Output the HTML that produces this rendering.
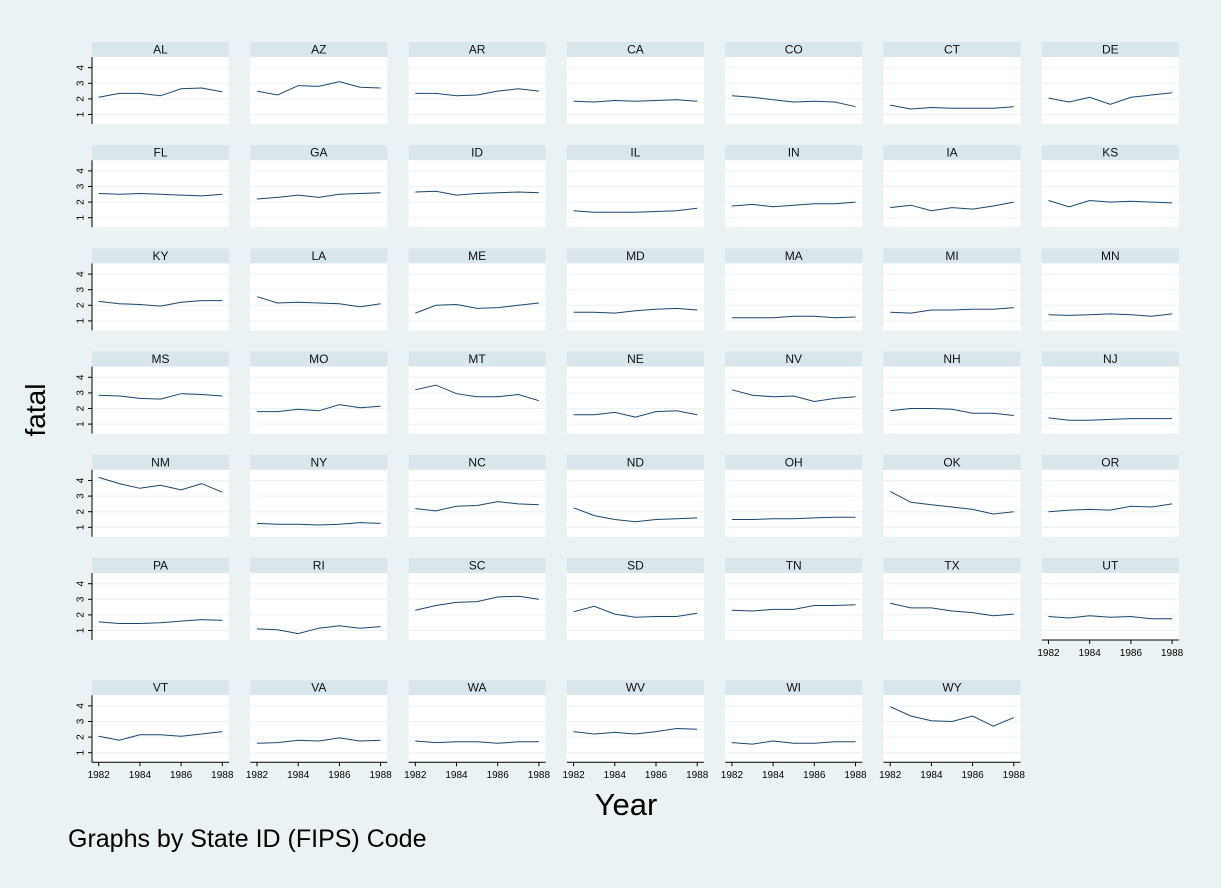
<!DOCTYPE html>
<html><head><meta charset="utf-8"><style>
body{margin:0;background:#eaf2f3;}
svg{display:block;font-family:"Liberation Sans",Arial,sans-serif;}
</style></head><body>
<svg id="chart" width="1221" height="888" viewBox="0 0 1221 888" xmlns="http://www.w3.org/2000/svg">
<rect width="1221" height="888" fill="#eaf2f3"/>
<text x="45" y="410" font-size="28" text-anchor="middle" transform="rotate(-90 45 410)">fatal</text>
<text x="626" y="815" font-size="31" text-anchor="middle">Year</text>
<text x="68" y="847" font-size="25">Graphs by State ID (FIPS) Code</text>
<g id="panels"></g>
</svg>
<script>
const years=[1982,1983,1984,1985,1986,1987,1988];
const xTicks=[1982,1984,1986,1988];
const yTicks=[1,2,3,4];
const states=["AL","AZ","AR","CA","CO","CT","DE","FL","GA","ID","IL","IN","IA","KS","KY","LA","ME","MD","MA","MI","MN","MS","MO","MT","NE","NV","NH","NJ","NM","NY","NC","ND","OH","OK","OR","PA","RI","SC","SD","TN","TX","UT","VT","VA","WA","WV","WI","WY"];
const AL=[2.1,2.35,2.35,2.2,2.65,2.7,2.45];
const AZ=[2.5,2.25,2.85,2.8,3.1,2.75,2.7];
const AR=[2.35,2.35,2.2,2.25,2.5,2.65,2.5];
const CA=[1.85,1.8,1.9,1.85,1.9,1.95,1.85];
const CO=[2.2,2.1,1.95,1.8,1.85,1.8,1.5];
const CT=[1.6,1.35,1.45,1.4,1.4,1.4,1.5];
const DE=[2.05,1.8,2.1,1.65,2.1,2.25,2.4];
const FL=[2.55,2.5,2.55,2.5,2.45,2.4,2.5];
const GA=[2.2,2.3,2.45,2.3,2.5,2.55,2.6];
const ID=[2.65,2.7,2.45,2.55,2.6,2.65,2.6];
const IL=[1.45,1.35,1.35,1.35,1.4,1.45,1.6];
const IN=[1.75,1.85,1.7,1.8,1.9,1.9,2.0];
const IA=[1.65,1.8,1.45,1.65,1.55,1.75,2.0];
const KS=[2.1,1.7,2.1,2.0,2.05,2.0,1.95];
const KY=[2.25,2.1,2.05,1.95,2.2,2.3,2.3];
const LA=[2.55,2.15,2.2,2.15,2.1,1.9,2.1];
const ME=[1.5,2.0,2.05,1.8,1.85,2.0,2.15];
const MD=[1.55,1.55,1.5,1.65,1.75,1.8,1.7];
const MA=[1.2,1.2,1.2,1.3,1.3,1.2,1.25];
const MI=[1.55,1.5,1.7,1.7,1.75,1.75,1.85];
const MN=[1.4,1.35,1.4,1.45,1.4,1.3,1.45];
const MS=[2.85,2.8,2.65,2.6,2.95,2.9,2.8];
const MO=[1.8,1.8,1.95,1.85,2.25,2.05,2.15];
const MT=[3.2,3.5,2.95,2.75,2.75,2.9,2.5];
const NE=[1.6,1.6,1.75,1.45,1.8,1.85,1.6];
const NV=[3.2,2.85,2.75,2.8,2.45,2.65,2.75];
const NH=[1.85,2.0,2.0,1.95,1.7,1.7,1.55];
const NJ=[1.4,1.25,1.25,1.3,1.35,1.35,1.35];
const NM=[4.2,3.8,3.5,3.7,3.4,3.8,3.25];
const NY=[1.25,1.2,1.2,1.15,1.2,1.3,1.25];
const NC=[2.2,2.05,2.35,2.4,2.65,2.5,2.45];
const ND=[2.25,1.75,1.5,1.35,1.5,1.55,1.6];
const OH=[1.5,1.5,1.55,1.55,1.6,1.65,1.65];
const OK=[3.3,2.6,2.45,2.3,2.15,1.85,2.0];
const OR=[2.0,2.1,2.15,2.1,2.35,2.3,2.5];
const PA=[1.55,1.45,1.45,1.5,1.6,1.7,1.65];
const RI=[1.1,1.05,0.8,1.15,1.3,1.15,1.25];
const SC=[2.3,2.6,2.8,2.85,3.15,3.2,3.0];
const SD=[2.2,2.55,2.05,1.85,1.9,1.9,2.1];
const TN=[2.3,2.25,2.35,2.35,2.6,2.6,2.65];
const TX=[2.75,2.45,2.45,2.25,2.15,1.95,2.05];
const UT=[1.9,1.8,1.95,1.85,1.9,1.75,1.75];
const VT=[2.05,1.8,2.15,2.15,2.05,2.2,2.35];
const VA=[1.6,1.65,1.8,1.75,1.95,1.75,1.8];
const WA=[1.75,1.65,1.7,1.7,1.6,1.7,1.7];
const WV=[2.35,2.2,2.3,2.2,2.35,2.55,2.5];
const WI=[1.65,1.55,1.75,1.6,1.6,1.7,1.7];
const WY=[3.95,3.35,3.05,3.0,3.35,2.7,3.25];
const values=[AL,AZ,AR,CA,CO,CT,DE,FL,GA,ID,IL,IN,IA,KS,KY,LA,ME,MD,MA,MI,MN,MS,MO,MT,NE,NV,NH,NJ,NM,NY,NC,ND,OH,OK,OR,PA,RI,SC,SD,TN,TX,UT,VT,VA,WA,WV,WI,WY];

const NS="http://www.w3.org/2000/svg";
const g=document.getElementById('panels');
function mk(tag,attrs,parent){const e=document.createElementNS(NS,tag);for(const k in attrs)e.setAttribute(k,attrs[k]);parent.appendChild(e);return e;}
const PW=137, HH=15, PH=67;
function panelPos(i){const r=Math.floor(i/7),c=i%7;const x=92+c*158.3;const y=42+r*103.2+(r===6?19:0);return [x,y,r,c];}
states.forEach((st,i)=>{
  const [px,py,r,c]=panelPos(i);
  const top=py+HH, bot=top+PH;
  const xs=v=>px+6.7+(v-1982)/6*123.6;
  const ys=v=>top+10.7+(4-v)*15.6;
  const pg=mk('g',{},g);
  
  
  const hd=mk('rect',{x:px,y:py,width:PW,height:HH,fill:'#d9e6eb'},pg);
  
  
  const t=mk('text',{x:px+PW/2,y:py+11.5,'font-size':12,'text-anchor':'middle',fill:'#111'},pg);
  t.textContent=st;
  
  
  mk('rect',{x:px,y:top,width:PW,height:PH,fill:'#fff'},pg);
  yTicks.forEach(v=>{
    const gl=mk('line',{x1:px,x2:px+PW,y1:ys(v),y2:ys(v),stroke:'#eaf2f3','stroke-width':1},pg);
    
    
  });
  const pts=values[i].map((v,j)=>xs(years[j]).toFixed(1)+','+ys(v).toFixed(1)).join(' ');
  const ln=mk('polyline',{points:pts,fill:'none',stroke:'#1a476f','stroke-width':1},pg);
  
  
  if(c===0){
    mk('line',{x1:px,x2:px,y1:top,y2:bot,stroke:'#000','stroke-width':1},pg);
    yTicks.forEach(v=>{
      mk('line',{x1:px-4,x2:px,y1:ys(v),y2:ys(v),stroke:'#000','stroke-width':1},pg);
      const tl=mk('text',{x:px-12,y:ys(v),'font-size':10,'text-anchor':'middle',transform:'rotate(-90 '+(px-12)+' '+ys(v)+')',dy:'0.35em'},pg);
      tl.textContent=v;
      
      
    });
  }
  if(r===6||st==='UT'){
    mk('line',{x1:px,x2:px+PW,y1:bot,y2:bot,stroke:'#000','stroke-width':1},pg);
    xTicks.forEach(v=>{
      mk('line',{x1:xs(v),x2:xs(v),y1:bot,y2:bot+4,stroke:'#000','stroke-width':1},pg);
      const xl=mk('text',{x:xs(v),y:bot+16,'font-size':10,'text-anchor':'middle'},pg);
      xl.textContent=v;
      
      
    });
  }
});
</script>
</body></html>
